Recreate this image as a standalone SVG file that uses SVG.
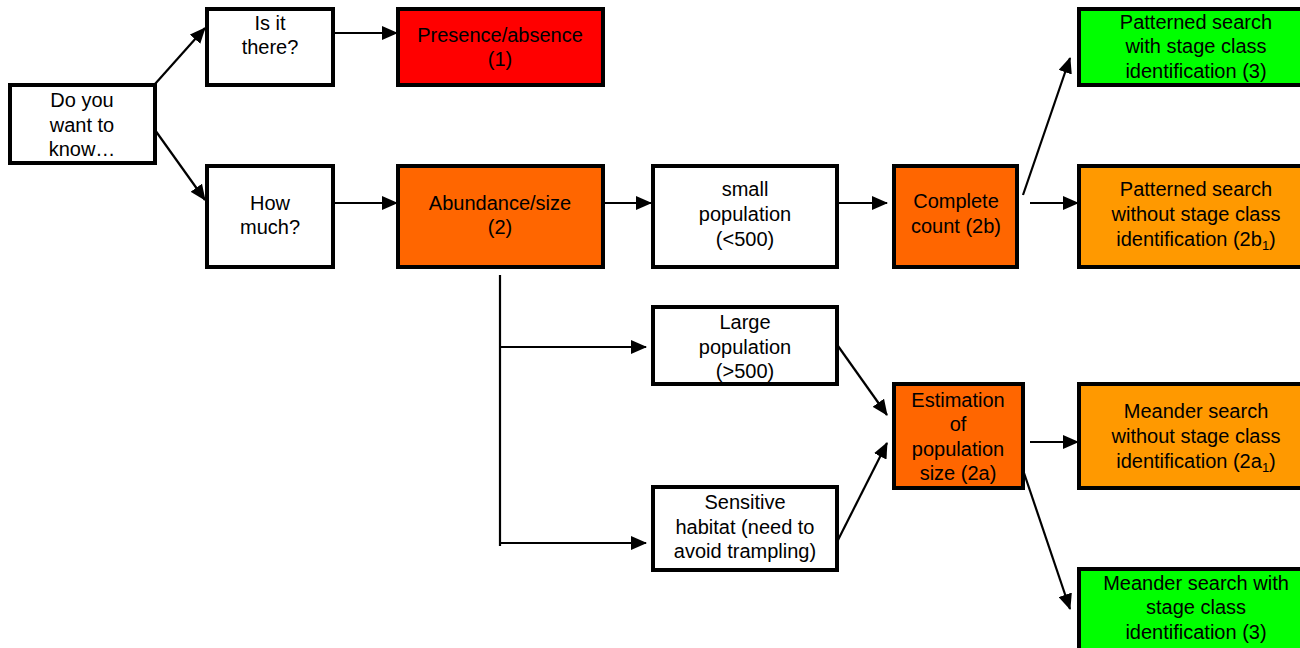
<svg xmlns="http://www.w3.org/2000/svg" width="1300" height="648" viewBox="0 0 1300 648">
  <defs>
    <marker id="arrow" markerUnits="userSpaceOnUse" markerWidth="16" markerHeight="14" refX="15" refY="7" orient="auto">
      <path d="M0,0 L16,7 L0,14 z" fill="#000"/>
    </marker>
    <style>
      .box { stroke: #000; stroke-width: 4; }
      .white { fill: #fff; }
      .red { fill: #ff0000; }
      .dark { fill: #ff6600; }
      .amber { fill: #ff9900; }
      .green { fill: #00ff00; }
      text { font-family: "Liberation Sans", Arial, sans-serif; font-size: 20px; fill: #000; text-anchor: middle; }
      .sub { font-size: 13px; }
      .edge { stroke: #000; stroke-width: 2.2; fill: none; }
      .arr { marker-end: url(#arrow); }
    </style>
  </defs>
  <rect width="1300" height="648" fill="#fff"/>

  <g id="connectors">
    <line class="edge arr" x1="155" y1="84" x2="205" y2="28"/>
    <line class="edge arr" x1="155" y1="130" x2="205" y2="200"/>
    <line class="edge arr" x1="325" y1="33" x2="397" y2="33"/>
    <line class="edge arr" x1="325" y1="203" x2="397" y2="203"/>
    <line class="edge arr" x1="598" y1="203" x2="651" y2="203"/>
    <line class="edge arr" x1="837" y1="203" x2="887" y2="203"/>
    <line class="edge arr" x1="1030" y1="203" x2="1078" y2="203"/>
    <line class="edge arr" x1="1023" y1="195" x2="1070" y2="58"/>
    <line class="edge" x1="500" y1="275" x2="500" y2="546"/>
    <line class="edge arr" x1="500" y1="347" x2="646" y2="347"/>
    <line class="edge arr" x1="500" y1="543" x2="646" y2="543"/>
    <line class="edge arr" x1="838" y1="346" x2="887" y2="415"/>
    <line class="edge arr" x1="838" y1="540" x2="887" y2="443"/>
    <line class="edge arr" x1="1030" y1="442" x2="1078" y2="442"/>
    <line class="edge arr" x1="1023" y1="470" x2="1070" y2="609"/>
  </g>

  <g id="node-know">
    <rect class="box white" x="10" y="85" width="145" height="78"/>
    <text x="82" y="107">Do you</text>
    <text x="82" y="132">want to</text>
    <text x="82" y="156">know…</text>
  </g>

  <g id="node-there">
    <rect class="box white" x="207" y="9" width="126" height="76"/>
    <text x="270" y="30">Is it</text>
    <text x="270" y="54">there?</text>
  </g>

  <g id="node-presence">
    <rect class="box red" x="398" y="9" width="205" height="76"/>
    <text x="500" y="42">Presence/absence</text>
    <text x="500" y="66">(1)</text>
  </g>

  <g id="node-howmuch">
    <rect class="box white" x="207" y="166" width="126" height="101"/>
    <text x="270" y="210">How</text>
    <text x="270" y="234">much?</text>
  </g>

  <g id="node-abundance">
    <rect class="box dark" x="398" y="166" width="205" height="101"/>
    <text x="500" y="210">Abundance/size</text>
    <text x="500" y="234">(2)</text>
  </g>

  <g id="node-small">
    <rect class="box white" x="653" y="166" width="184" height="101"/>
    <text x="745" y="196">small</text>
    <text x="745" y="221">population</text>
    <text x="745" y="246">(&lt;500)</text>
  </g>

  <g id="node-complete">
    <rect class="box dark" x="894" y="166" width="123" height="101"/>
    <text x="956" y="208">Complete</text>
    <text x="956" y="233">count (2b)</text>
  </g>

  <g id="node-pattern-with">
    <rect class="box green" x="1079" y="9" width="225" height="76"/>
    <text x="1196" y="29">Patterned search</text>
    <text x="1196" y="53">with stage class</text>
    <text x="1196" y="78">identification (3)</text>
  </g>

  <g id="node-pattern-without">
    <rect class="box amber" x="1079" y="166" width="225" height="101"/>
    <text x="1196" y="196">Patterned search</text>
    <text x="1196" y="221">without stage class</text>
    <text x="1196" y="246">identification (2b<tspan class="sub" dy="4">1</tspan><tspan dy="-4">)</tspan></text>
  </g>

  <g id="node-large">
    <rect class="box white" x="653" y="307" width="184" height="77"/>
    <text x="745" y="329">Large</text>
    <text x="745" y="354">population</text>
    <text x="745" y="378">(&gt;500)</text>
  </g>

  <g id="node-sensitive">
    <rect class="box white" x="653" y="487" width="184" height="83"/>
    <text x="745" y="509">Sensitive</text>
    <text x="745" y="534">habitat (need to</text>
    <text x="745" y="558">avoid trampling)</text>
  </g>

  <g id="node-estimation">
    <rect class="box dark" x="894" y="384" width="129" height="104"/>
    <text x="958" y="407">Estimation</text>
    <text x="958" y="431">of</text>
    <text x="958" y="456">population</text>
    <text x="958" y="480">size (2a)</text>
  </g>

  <g id="node-meander-without">
    <rect class="box amber" x="1079" y="384" width="225" height="104"/>
    <text x="1196" y="418">Meander search</text>
    <text x="1196" y="443">without stage class</text>
    <text x="1196" y="468">identification (2a<tspan class="sub" dy="4">1</tspan><tspan dy="-4">)</tspan></text>
  </g>

  <g id="node-meander-with">
    <rect class="box green" x="1079" y="569" width="225" height="81"/>
    <text x="1196" y="590">Meander search with</text>
    <text x="1196" y="614">stage class</text>
    <text x="1196" y="639">identification (3)</text>
  </g>
</svg>
